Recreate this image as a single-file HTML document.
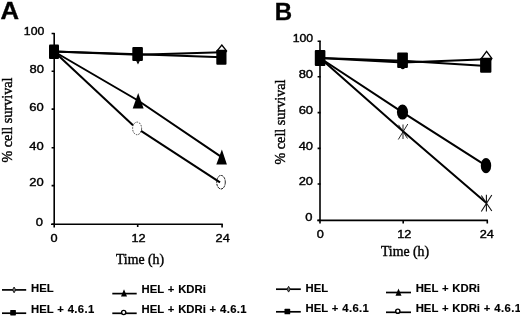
<!DOCTYPE html>
<html><head><meta charset="utf-8">
<style>
html,body{margin:0;padding:0;background:#fff;}
body{width:520px;height:318px;overflow:hidden;font-family:"Liberation Sans",sans-serif;}
svg{display:block;filter:grayscale(1);}
.t{font-family:"Liberation Sans",sans-serif;font-size:11.8px;fill:#000;stroke:#000;stroke-width:0.4px;}
.b{font-family:"Liberation Sans",sans-serif;font-size:11.3px;font-weight:bold;fill:#000;stroke:#000;stroke-width:0.15px;word-spacing:0.7px;}
.s{font-family:"Liberation Serif",serif;font-size:13.8px;fill:#000;stroke:#000;stroke-width:0.4px;}
.sv{font-size:14.2px;}
.p{font-family:"Liberation Sans",sans-serif;font-size:24px;font-weight:bold;fill:#000;stroke:#000;stroke-width:0.35px;}
</style></head><body>
<svg width="520" height="318" viewBox="0 0 520 318">
<rect width="520" height="318" fill="#fff"/>

<!-- ===== Panel A ===== -->
<text class="p" transform="translate(0.400,19.300) scale(1.07,1.0)">A</text>
<g stroke="#000" stroke-width="1.6" fill="none">
  <path d="M54.200 33 V227.400"/>
  <path d="M52 224.200 H222.800"/>
  <path d="M51.600 33.500 h3 M51.600 71.300 h3 M51.600 109.100 h3 M51.600 147.800 h3 M51.600 185.600 h3 M51 224.200 h3"/>
  <path d="M137.700 224 v3 M222.100 224 v3.500"/>
</g>
<g class="t" text-anchor="end">
  <text transform="translate(44.300,35) scale(1.04,1)" x="0" y="0">100</text>
  <text transform="translate(44,73.300) scale(1.1,1)" x="0" y="0">80</text>
  <text transform="translate(43.800,111.300) scale(1.1,1)" x="0" y="0">60</text>
  <text transform="translate(43.800,149.600) scale(1.1,1)" x="0" y="0">40</text>
  <text transform="translate(43.800,186.400) scale(1.1,1)" x="0" y="0">20</text>
  <text transform="translate(43,226.300) scale(1.1,1)" x="0" y="0">0</text>
</g>
<g class="t" text-anchor="middle">
  <text transform="translate(54,241.500) scale(1.08,1)">0</text>
  <text transform="translate(138.500,241.500) scale(1.08,1)">12</text>
  <text transform="translate(222.700,241.500) scale(1.08,1)">24</text>
</g>
<text class="s" text-anchor="middle" x="140" y="264">Time (h)</text>
<text class="s sv" text-anchor="middle" transform="translate(11.5,120) rotate(-90)">% cell survival</text>

<!-- series A -->
<g stroke="#333" stroke-width="0.900" fill="#fff" stroke-dasharray="1.6 1.1">
  <ellipse cx="137.100" cy="128.400" rx="4.500" ry="6.300"/>
</g>
<g stroke="#000" stroke-width="2" fill="none" stroke-linejoin="round">
  <polyline points="54,51.500 138,54.800 222,52.300"/>
  <polyline points="54,51.500 138,54.200 222,57.200"/>
  <polyline points="54,51.500 138,100.500 222,157.300"/>
  <polyline points="54,51.500 133,125.300"/>
  <polyline points="141,130.800 220,182.300"/>
</g>
<!-- diamonds -->
<g stroke="#000" stroke-width="1.300" fill="#fff">
  <path d="M221.800 45 l4.800 6 l-4.800 6 l-4.800 -6 z"/>
  <path d="M138 49 l3.500 7 l-3.500 7 l-3.500 -7 z"/>
</g>
<!-- squares -->
<g fill="#000">
  <rect x="49" y="44.500" width="10" height="14.500" rx="1"/>
  <rect x="132.300" y="47.100" width="10.600" height="13.800" rx="1"/>
  <rect x="216.300" y="49.700" width="10.200" height="15" rx="1"/>
</g>
<!-- triangles -->
<g fill="#000">
  <path d="M138.200 93 L143.600 108.600 L132.700 108.600 Z"/>
  <path d="M221.900 149.600 L226.900 164.500 L216.300 164.500 Z"/>
</g>
<!-- open circles -->
<g stroke="#111" stroke-width="1" fill="none" stroke-dasharray="2.5 0.8">
  <ellipse cx="221" cy="182.200" rx="4.300" ry="6.800"/>
</g>

<!-- legend A -->
<g stroke="#000" stroke-width="1.7">
  <path d="M2 289.900 H26.200"/>
  <path d="M2 313.200 H26.200"/>
  <path d="M112.300 293.600 H136.700"/>
  <path d="M112.300 313.300 H136.700"/>
</g>
<path d="M14.100 287 l1.600 2.900 l-1.600 2.900 l-1.600 -2.900 z" fill="#777" stroke="#111" stroke-width="0.900"/>
<rect x="10.200" y="310" width="5.700" height="5.400" rx="0.600" fill="#000"/>
<path d="M124 289.200 L127 296.500 H121 Z" fill="#000"/>
<circle cx="123.700" cy="312.500" r="2.100" fill="#fff" stroke="#000" stroke-width="1.400"/>
<g class="b">
  <text x="31" y="292.200">HEL</text>
  <text x="31" y="313">HEL + <tspan letter-spacing="0.35">4.6.1</tspan></text>
  <text x="141.500" y="292.700">HEL + KDRi</text>
  <text x="141.500" y="313">HEL + KDRi + <tspan letter-spacing="0.35">4.6.1</tspan></text>
</g>

<!-- ===== Panel B ===== -->
<text class="p" transform="translate(274.800,20.100) scale(1.0,1.0)">B</text>
<g stroke="#000" stroke-width="1.6" fill="none">
  <path d="M320 40.800 V223.500"/>
  <path d="M318.500 220.400 H488"/>
  <path d="M317.600 41.200 h3 M317.600 76.800 h3 M317.600 112.600 h3 M317.600 148.400 h3 M317.600 184 h3 M317.200 220.400 h3"/>
  <path d="M403.200 220.400 v3 M487.300 220.400 v3.200"/>
</g>
<g class="t" text-anchor="end">
  <text transform="translate(313.1,42) scale(1.04,1)" x="0" y="0">100</text>
  <text transform="translate(313.1,78) scale(1.1,1)" x="0" y="0">80</text>
  <text transform="translate(313.1,114) scale(1.1,1)" x="0" y="0">60</text>
  <text transform="translate(313.1,149.5) scale(1.1,1)" x="0" y="0">40</text>
  <text transform="translate(313.1,185) scale(1.1,1)" x="0" y="0">20</text>
  <text transform="translate(312.400,220.800) scale(1.1,1)" x="0" y="0">0</text>
</g>
<g class="t" text-anchor="middle">
  <text transform="translate(320.200,237.500) scale(1.08,1)">0</text>
  <text transform="translate(404.300,237.500) scale(1.08,1)">12</text>
  <text transform="translate(486.800,237.500) scale(1.08,1)">24</text>
</g>
<text class="s" text-anchor="middle" x="405" y="255.500">Time (h)</text>
<text class="s sv" text-anchor="middle" transform="translate(285,122) rotate(-90)">% cell survival</text>

<!-- series B -->
<g stroke="#000" stroke-width="2" fill="none" stroke-linejoin="round">
  <polyline points="320,58 403,62.600 486.500,59.200"/>
  <polyline points="320,58 403,60.700 486.500,66"/>
  <polyline points="320,58 402.600,112.400 486,165.700"/>
  <polyline points="320,58 403,131.300 486.400,203"/>
</g>
<g stroke="#000" stroke-width="1.300" fill="#fff">
  <path d="M486.600 51.300 l5.300 7.200 l-5.300 7.200 l-5.300 -7.200 z"/>
  <path d="M402.800 56 l3.600 7.700 q-3.600 10 -7.200 0 z"/>
</g>
<g fill="#000">
  <rect x="314.800" y="50" width="10.600" height="16" rx="1"/>
  <rect x="397.200" y="52.600" width="10.700" height="15.400" rx="1"/>
  <rect x="480.100" y="57.800" width="11.300" height="15" rx="1"/>
</g>
<g fill="#000">
  <ellipse cx="402.500" cy="112.100" rx="5.600" ry="7.500"/>
  <ellipse cx="486" cy="165.700" rx="5.200" ry="7.600"/>
</g>
<g stroke="#111" fill="none">
  <path stroke-width="0.900" d="M398.300 139.500 L407.800 124 M398.500 124.800 L407.500 138.500 M403 124.500 V139"/>
  <path stroke-width="1.100" d="M481.300 195.500 L491.800 211 M491.800 195 L481.300 211.500 M486.400 194.700 V211.500"/>
</g>

<!-- legend B -->
<g stroke="#000" stroke-width="1.700">
  <path d="M276 289.200 H300.800"/>
  <path d="M276 311.800 H300.800"/>
  <path d="M386 292.500 H411"/>
  <path d="M386 312.300 H411"/>
</g>
<path d="M288.600 286.300 l1.600 2.900 l-1.600 2.900 l-1.600 -2.900 z" fill="#777" stroke="#111" stroke-width="0.900"/>
<rect x="284.500" y="308.800" width="5.700" height="5.500" rx="0.600" fill="#000"/>
<path d="M398.500 288.600 L401.500 295.800 H395.500 Z" fill="#000"/>
<circle cx="397.800" cy="311.200" r="2.100" fill="#fff" stroke="#000" stroke-width="1.400"/>
<g class="b">
  <text x="305.600" y="291.500">HEL</text>
  <text x="305.600" y="312.300">HEL + <tspan letter-spacing="0.35">4.6.1</tspan></text>
  <text x="415.700" y="292.200">HEL + KDRi</text>
  <text x="415.700" y="311.800">HEL + KDRi + <tspan letter-spacing="0.4">4.6.1</tspan></text>
</g>
</svg>
</body></html>
